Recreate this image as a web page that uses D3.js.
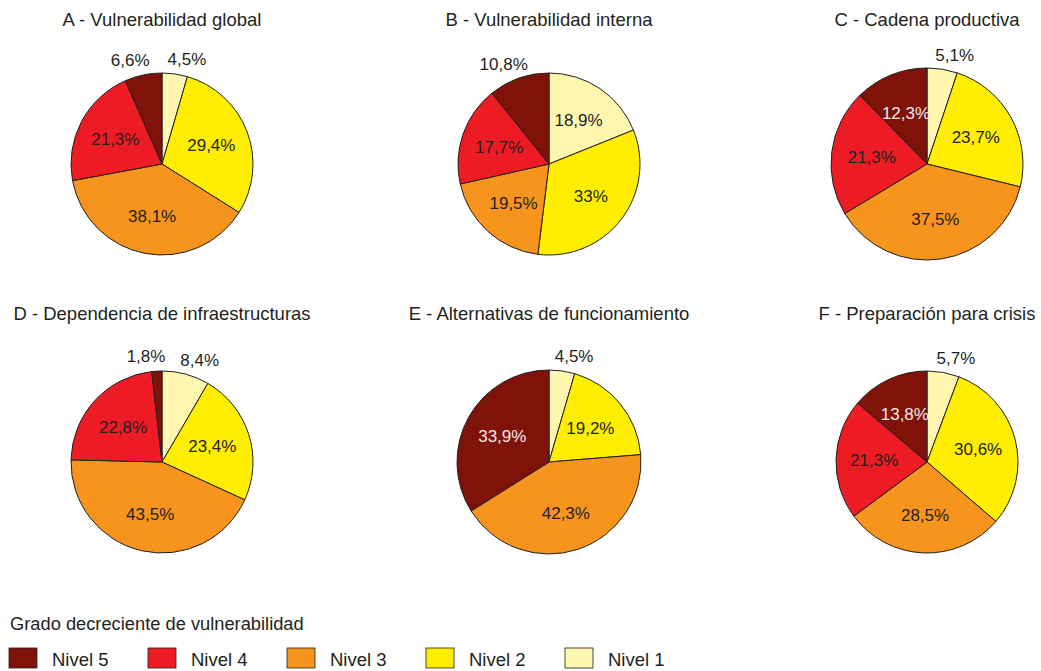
<!DOCTYPE html>
<html>
<head>
<meta charset="utf-8">
<script src="https://cdn.jsdelivr.net/npm/d3@7"></script>
<style>
  html, body { margin: 0; padding: 0; background: #fff; }
  svg { display: block; }
  text { font-family: "Liberation Sans", Arial, sans-serif; fill: #231f20; }
</style>
</head>
<body>
<svg id="chart" width="1041" height="671"></svg>
<script>
// ---- data ----
const levels = ["Nivel 1", "Nivel 2", "Nivel 3", "Nivel 4", "Nivel 5"];
const titles = [
  "A - Vulnerabilidad global",
  "B - Vulnerabilidad interna",
  "C - Cadena productiva",
  "D - Dependencia de infraestructuras",
  "E - Alternativas de funcionamiento",
  "F - Preparación para crisis"
];
const nivel1 = [4.5, 18.9, 5.1, 8.4, 4.5, 5.7];
const nivel2 = [29.4, 33, 23.7, 23.4, 19.2, 30.6];
const nivel3 = [38.1, 19.5, 37.5, 43.5, 42.3, 28.5];
const nivel4 = [21.3, 17.7, 21.3, 22.8, 0, 21.3];
const nivel5 = [6.6, 10.8, 12.3, 1.8, 33.9, 13.8];
const legendTitle = "Grado decreciente de vulnerabilidad";
const legendOrder = ["Nivel 5", "Nivel 4", "Nivel 3", "Nivel 2", "Nivel 1"];

// ---- styles / layout ----
const colors = d3.scaleOrdinal()
  .domain(levels)
  .range(["#fff6b0", "#ffee00", "#f7941d", "#ed1c24", "#7f130a"]);
const colX = d3.scaleOrdinal().domain([0, 1, 2]).range([162, 549, 927]);
const rowY = d3.scaleOrdinal().domain([0, 1]).range([164, 462]);
const radii = [91, 91, 96, 91, 92, 91];
const titleY = [26, 320];

const svg = d3.select("#chart");
const pie = d3.pie().sort(null).value(d => d.value);
const fmt = v => String(v).replace(".", ",") + "%";

titles.forEach((title, i) => {
  const col = i % 3, row = Math.floor(i / 3);
  const cx = colX(col), cy = rowY(row), R = radii[i];
  const data = levels.map((l, k) => ({
    level: l,
    value: [nivel1, nivel2, nivel3, nivel4, nivel5][k][i]
  }));

  svg.append("text")
    .attr("x", cx)
    .attr("y", titleY[row])
    .attr("text-anchor", "middle")
    .style("font-size", "18.5px")
    .text(title);

  const g = svg.append("g").attr("transform", `translate(${cx},${cy})`);
  const arcs = pie(data).filter(d => d.data.value > 0);
  const arc = d3.arc().innerRadius(0).outerRadius(R);

  g.selectAll("path")
    .data(arcs)
    .join("path")
    .attr("d", arc)
    .attr("fill", d => colors(d.data.level))
    .attr("stroke", "#231f20")
    .attr("stroke-width", 1)
    .attr("stroke-linejoin", "round");

  const inner = d3.arc().innerRadius(R * 0.58).outerRadius(R * 0.58);
  arcs.forEach(d => {
    const v = d.data.value;
    const mid = (d.startAngle + d.endAngle) / 2;
    let x, y;
    if (v < 11) {
      const rr = R + 15;
      x = Math.sin(mid) * rr + (Math.sin(mid) >= 0 ? 10 : -10);
      y = -Math.cos(mid) * rr;
    } else {
      [x, y] = inner.centroid(d);
    }
    const light = v >= 11 && d.data.level === "Nivel 5";
    g.append("text")
      .attr("x", x)
      .attr("y", y)
      .attr("dy", "0.36em")
      .attr("text-anchor", "middle")
      .style("font-size", "17px")
      .style("fill", light ? "#f3e9e7" : "#231f20")
      .text(fmt(v));
  });
});

// ---- legend ----
svg.append("text")
  .attr("x", 10)
  .attr("y", 630)
  .style("font-size", "18.3px")
  .text(legendTitle);

const lx = d3.scalePoint().domain(legendOrder).range([9, 565]);
const lg = svg.append("g").selectAll("g")
  .data(legendOrder)
  .join("g")
  .attr("transform", d => `translate(${lx(d)},648)`);
lg.append("rect")
  .attr("width", 28)
  .attr("height", 20)
  .attr("fill", d => colors(d))
  .attr("stroke", "#231f20")
  .attr("stroke-width", 0.8);
lg.append("text")
  .attr("x", 43)
  .attr("y", 18)
  .style("font-size", "18.5px")
  .text(d => d);
</script>
</body>
</html>
